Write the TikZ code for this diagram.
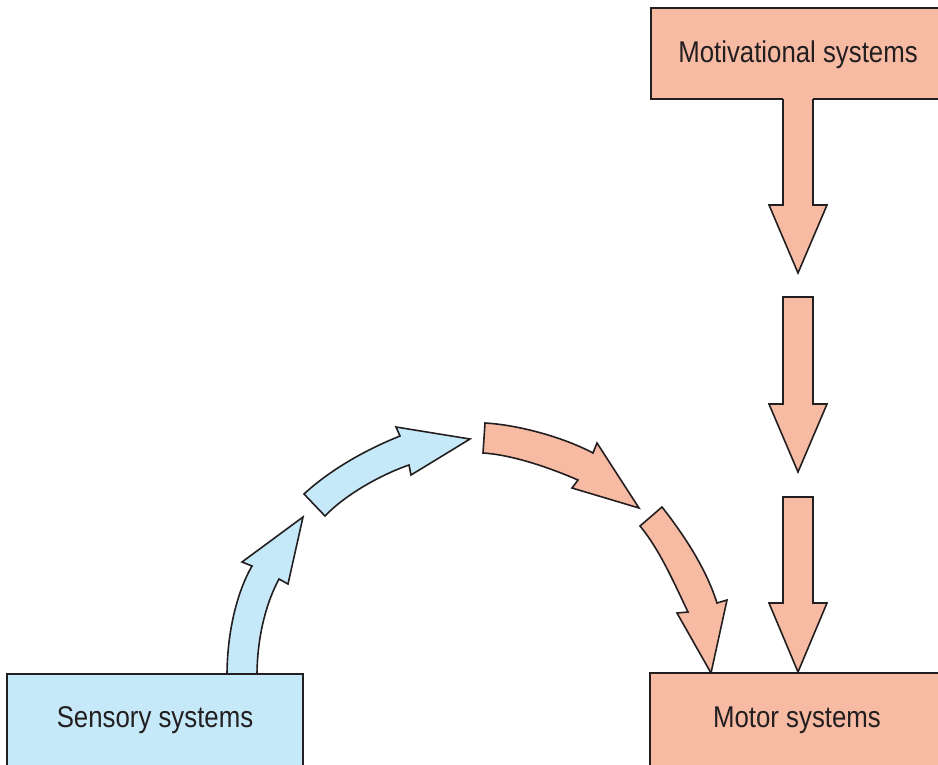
\documentclass[tikz,border=0pt]{standalone}
\usepackage{fontspec}
\setmainfont{Liberation Sans}[FakeStretch=0.86]
\definecolor{salmon}{HTML}{F7BBA4}
\definecolor{skyb}{HTML}{C6E9F9}
\definecolor{ink}{HTML}{231F20}
\begin{document}
\begin{tikzpicture}[x=1pt,y=-1pt,line join=miter,
  box/.style={draw=ink,line width=1.6pt,outer sep=0pt,inner sep=0pt,anchor=north west},
  lab/.style={font=\fontsize{30}{35}\selectfont,text=ink,anchor=base,inner sep=0pt},
  arr/.style={line width=1.6pt,draw=ink}]
\useasboundingbox (0,0) rectangle (938,764);
% Motivational box
\node[box,fill=salmon,minimum width=294pt,minimum height=91pt] (mot) at (651,8) {};
\node[lab] (motlab) at (798,62) {Motivational systems};
% straight arrows
\fill[salmon] (783,97) -- (783,205) -- (769,205) -- (798,273) -- (827,205) -- (813,205) -- (813,97) -- cycle;
\draw[arr] (783,99) -- (783,205) -- (769,205) -- (798,273) -- (827,205) -- (813,205) -- (813,99);
\filldraw[arr,fill=salmon] (783,297) -- (783,404) -- (769,404) -- (798,472) -- (827,404) -- (813,404) -- (813,297) -- cycle;
\filldraw[arr,fill=salmon] (783,497) -- (783,603) -- (769,603) -- (798,672) -- (827,603) -- (813,603) -- (813,497) -- cycle;
% blue curved arrows
\filldraw[arr,fill=skyb] (227,676) .. controls (227,630) and (238,590) .. (252,566) -- (242,562) -- (303,517) -- (288,584) -- (279,579) .. controls (265,605) and (257,640) .. (257,676) -- cycle;
\filldraw[arr,fill=skyb] (304,494) .. controls (330,470) and (365,450) .. (400,436) -- (396,427) -- (470,439) -- (411,475) -- (409,465) .. controls (380,475) and (345,495) .. (325,516) -- cycle;
% salmon curved arrows
\filldraw[arr,fill=salmon] (485,423) .. controls (520,425) and (565,438) .. (593,453) -- (597,443) -- (639,508) -- (572,488) -- (578,480) .. controls (555,470) and (515,455) .. (483,453) -- cycle;
\filldraw[arr,fill=salmon] (662,507) .. controls (680,530) and (705,565) .. (717,603) -- (727,600) -- (711,673) -- (677,613) -- (688,612) .. controls (675,585) and (660,550) .. (640,526) -- cycle;
% bottom boxes
\node[box,fill=skyb,minimum width=296pt,minimum height=96pt] (sens) at (7,674) {};
\node[lab] (senslab) at (155,727) {Sensory systems};
\node[box,fill=salmon,minimum width=295pt,minimum height=97pt] (motor) at (650,673) {};
\node[lab] (motorlab) at (797,727) {Motor systems};
\end{tikzpicture}
\end{document}
